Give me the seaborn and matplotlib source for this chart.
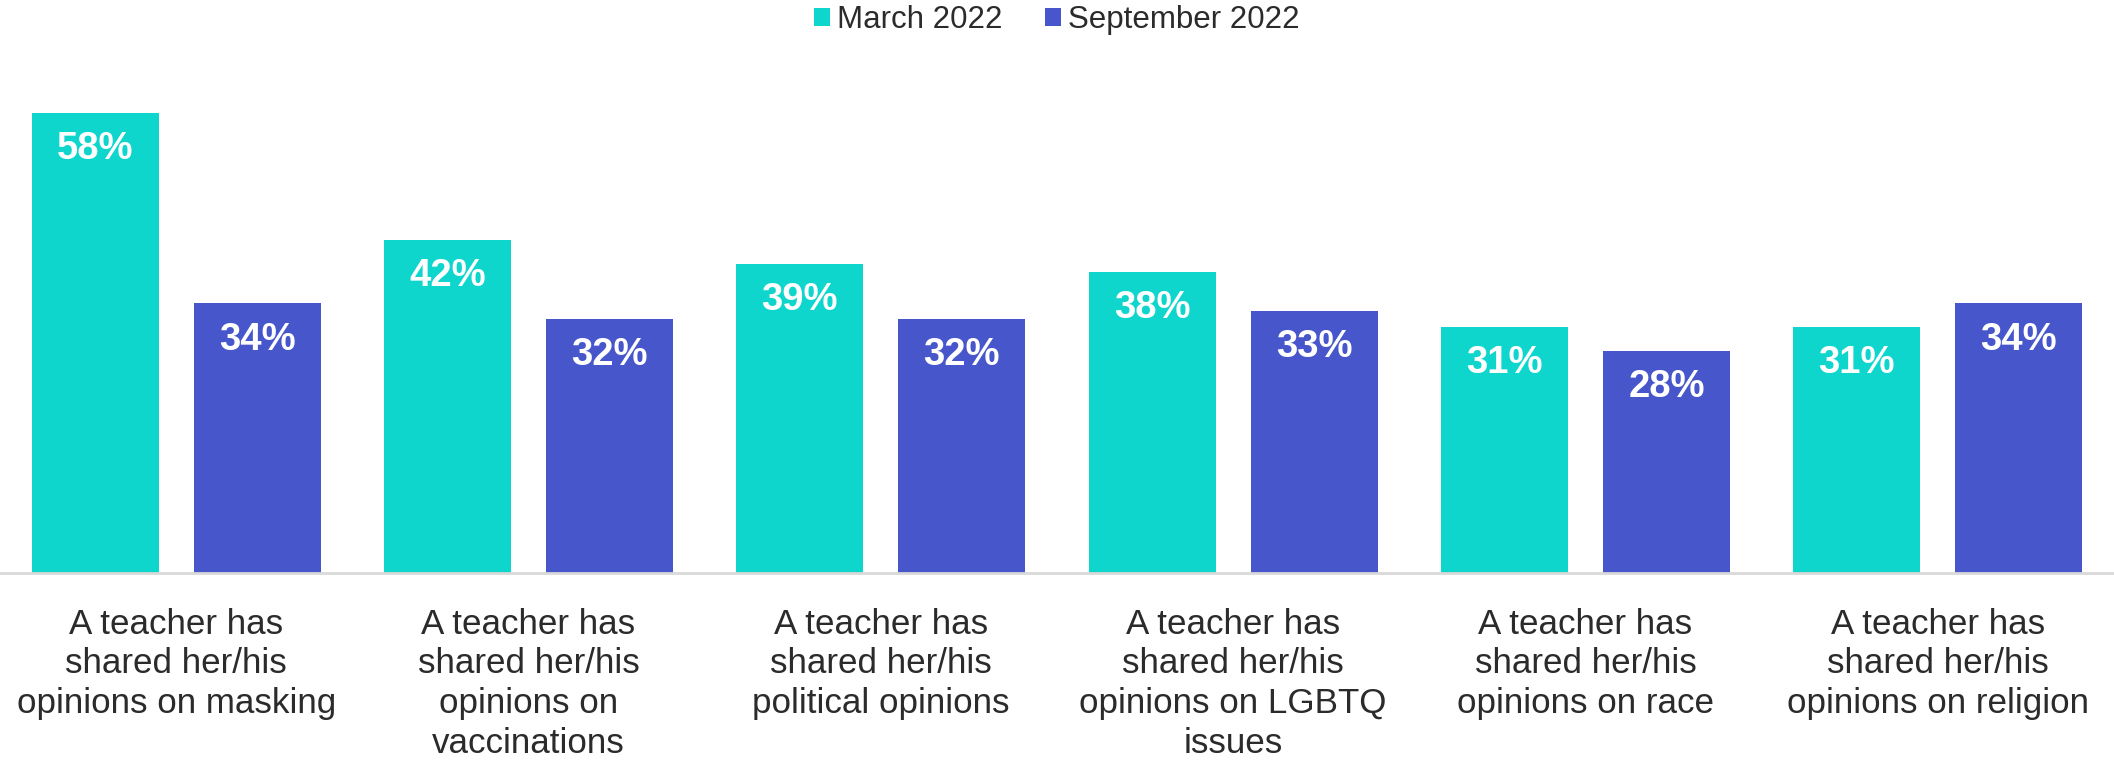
import pandas as pd
import matplotlib.pyplot as plt
import seaborn as sns

# categories + values
items = [
    "A teacher has\nshared her/his\nopinions on masking",
    "A teacher has\nshared her/his\nopinions on\nvaccinations",
    "A teacher has\nshared her/his\npolitical opinions",
    "A teacher has\nshared her/his\nopinions on LGBTQ\nissues",
    "A teacher has\nshared her/his\nopinions on race",
    "A teacher has\nshared her/his\nopinions on religion",
]
waves = ["March 2022", "September 2022"]
march = [58, 42, 39, 38, 31, 31]
september = [34, 32, 32, 33, 28, 34]

colors = ["#0ED6CD", "#4757CB"]

df = pd.DataFrame({
    "item": items * 2,
    "wave": [waves[0]] * len(items) + [waves[1]] * len(items),
    "pct": march + september,
})

sns.set_style("white")
plt.rcParams['font.family'] = ['Liberation Sans', 'DejaVu Sans']

fig = plt.figure(figsize=(21.14, 7.64), dpi=100)
ax = fig.add_axes([0, 0.25, 1, 0.6436])

sns.barplot(data=df, x="item", y="pct", hue="wave", palette=colors, saturation=1,
            width=0.92, gap=0.215, linewidth=0, ax=ax)

ax.set_xlim(-0.5, 5.5)
ax.set_ylim(0, 62)

# white bold labels inside the top of each bar
for cont in ax.containers:
    ax.bar_label(cont, labels=[f"{v:.0f}%" for v in cont.datavalues],
                 padding=-39, color="white", fontsize=27.5, fontweight="bold")

ax.set_xlabel("")
ax.set_ylabel("")
ax.set_yticks([])
ax.tick_params(axis="x", length=0, pad=25, labelsize=25.2, labelcolor="#2B2B2B")
for lab in ax.get_xticklabels():
    lab.set_linespacing(1.26)

for s in ["top", "right", "left"]:
    ax.spines[s].set_visible(False)
ax.spines["bottom"].set_color("#D9D9D9")
ax.spines["bottom"].set_linewidth(2)

ax.legend(loc="upper center", bbox_to_anchor=(0.5, 0.997), bbox_transform=fig.transFigure,
          ncol=2, frameon=False, fontsize=22.5, handlelength=0.5, handleheight=0.5,
          handletextpad=0.25, columnspacing=1.35, labelcolor="#2B2B2B",
          borderaxespad=0.0, borderpad=0.1)

fig.savefig("out.png", dpi=100)
